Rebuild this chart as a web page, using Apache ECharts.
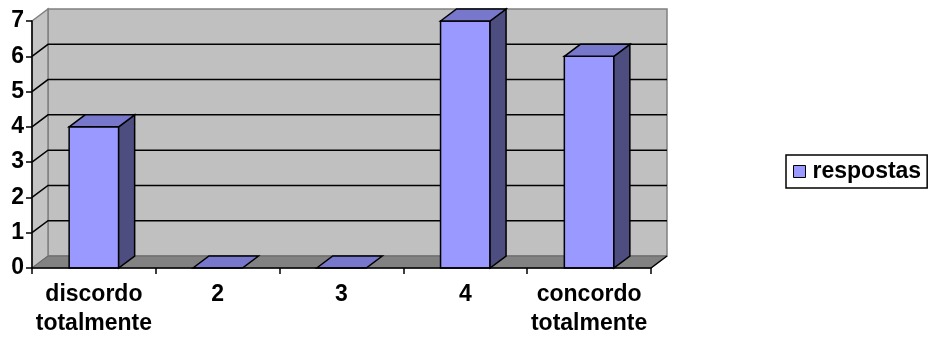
<!DOCTYPE html>
<html>
<head>
<meta charset="utf-8">
<style>
  html, body { margin: 0; padding: 0; background: #fff; }
  #chart { width: 929px; height: 338px; }
</style>
<script src="https://cdn.jsdelivr.net/npm/echarts@6/dist/echarts.min.js"></script>
</head>
<body>
<div id="chart"></div>
<script>
// dados
const categories = ['discordo\ntotalmente', '2', '3', '4', 'concordo\ntotalmente'];
const respostas = [4, 0, 0, 7, 6];
const yTicks = [0, 1, 2, 3, 4, 5, 6, 7];

// profundidade do efeito 3D
const DX = 16;
const DY = -12;
const FONT = "'Liberation Sans', Arial, sans-serif";

const chart = echarts.init(document.getElementById('chart'));

// paredes, chao e linhas de grade
function renderWalls(params, api) {
  const cs = params.coordSys;
  const x0 = cs.x, x1 = cs.x + cs.width;
  const y0 = api.coord([0, 0])[1];
  const yTop = api.coord([0, yTicks[yTicks.length - 1]])[1];
  const kids = [];
  // parede do fundo
  kids.push({
    type: 'polygon',
    shape: { points: [[x0 + DX, yTop + DY], [x1 + DX, yTop + DY], [x1 + DX, y0 + DY], [x0 + DX, y0 + DY]] },
    style: { fill: '#c0c0c0', stroke: '#808080', lineWidth: 1.5 }
  });
  // parede lateral
  kids.push({
    type: 'polygon',
    shape: { points: [[x0, yTop], [x0 + DX, yTop + DY], [x0 + DX, y0 + DY], [x0, y0]] },
    style: { fill: '#c4c4c4', stroke: '#808080', lineWidth: 1.5 }
  });
  // grade
  yTicks.forEach(function (v) {
    if (v === 0 || v === yTicks[yTicks.length - 1]) return;
    const y = api.coord([0, v])[1];
    kids.push({
      type: 'polyline',
      shape: { points: [[x0, y], [x0 + DX, y + DY], [x1 + DX, y + DY]] },
      style: { stroke: '#000', lineWidth: 1.5, fill: null }
    });
  });
  // chao
  kids.push({
    type: 'polygon',
    shape: { points: [[x0, y0], [x0 + DX, y0 + DY], [x1 + DX, y0 + DY], [x1, y0]] },
    style: { fill: '#828282', stroke: '#666', lineWidth: 1 }
  });
  kids.push({
    type: 'line',
    shape: { x1: x1, y1: y0, x2: x1 + DX, y2: y0 + DY },
    style: { stroke: '#000', lineWidth: 1.5 }
  });
  return { type: 'group', children: kids };
}

// barras 3D
function renderBar(params, api) {
  const cat = api.value(0);
  const val = api.value(1);
  const top = api.coord([cat, val]);
  const base = api.coord([cat, 0]);
  const w = api.size([1, 0])[0] * 0.4;
  const xa = top[0] - w / 2, xb = top[0] + w / 2;
  const yt = top[1], yb = base[1];
  const line = { stroke: '#000', lineWidth: 1.5 };
  const kids = [];
  if (val > 0) {
    kids.push({
      type: 'rect',
      shape: { x: xa, y: yt, width: w, height: yb - yt },
      style: Object.assign({ fill: '#9999ff' }, line)
    });
    kids.push({
      type: 'polygon',
      shape: { points: [[xb, yt], [xb + DX, yt + DY], [xb + DX, yb + DY], [xb, yb]] },
      style: Object.assign({ fill: '#4d4d80' }, line)
    });
  }
  kids.push({
    type: 'polygon',
    shape: { points: [[xa, yt], [xa + DX, yt + DY], [xb + DX, yt + DY], [xb, yt]] },
    style: Object.assign({ fill: '#7777cc' }, line)
  });
  return { type: 'group', children: kids };
}

const option = {
  animation: false,
  backgroundColor: '#fff',
  grid: { left: 32, right: 278, top: 21, bottom: 70 },
  legend: {
    data: [{ name: 'respostas', icon: 'rect' }],
    left: 786,
    top: 155,
    orient: 'vertical',
    padding: [5, 6, 5, 7],
    itemWidth: 12,
    itemHeight: 12,
    itemGap: 0,
    borderColor: '#000',
    borderWidth: 1.5,
    backgroundColor: '#fff',
    itemStyle: { color: '#9999ff', borderColor: '#000', borderWidth: 1 },
    textStyle: { fontFamily: FONT, fontWeight: 'bold', fontSize: 23, color: '#000', padding: [0, 0, 0, 2] }
  },
  xAxis: {
    type: 'category',
    data: categories,
    z: 5,
    boundaryGap: true,
    axisLine: { lineStyle: { color: '#000', width: 1.5 } },
    axisTick: { show: true, length: 6, interval: 0, lineStyle: { color: '#000', width: 1.5 } },
    axisLabel: {
      interval: 0,
      margin: 12,
      color: '#000',
      fontFamily: FONT,
      fontWeight: 'bold',
      fontSize: 23,
      lineHeight: 29
    },
    splitLine: { show: false }
  },
  yAxis: {
    type: 'value',
    min: 0,
    max: 7,
    interval: 1,
    z: 5,
    axisLine: { show: true, lineStyle: { color: '#000', width: 1.5 } },
    axisTick: { show: true, length: 6, lineStyle: { color: '#000', width: 1.5 } },
    axisLabel: {
      margin: 8,
      color: '#000',
      fontFamily: FONT,
      fontWeight: 'bold',
      fontSize: 23
    },
    splitLine: { show: false }
  },
  series: [
    {
      type: 'custom',
      name: 'paredes',
      z: 1,
      silent: true,
      renderItem: renderWalls,
      data: [[0, 0]]
    },
    {
      type: 'custom',
      name: 'respostas',
      z: 2,
      itemStyle: { color: '#9999ff' },
      renderItem: renderBar,
      encode: { x: 0, y: 1 },
      data: respostas.map(function (v, i) { return [i, v]; })
    }
  ]
};

chart.setOption(option);
</script>
</body>
</html>
